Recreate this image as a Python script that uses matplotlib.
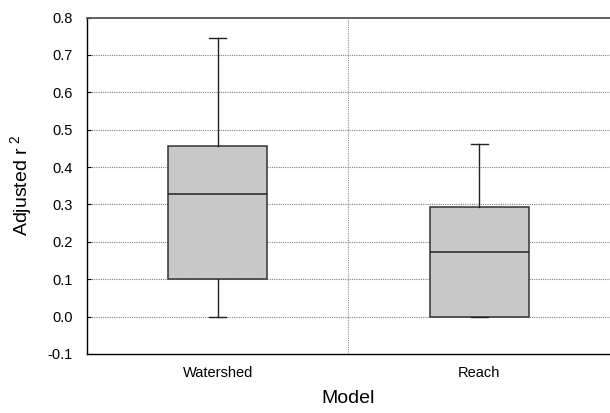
import numpy as np
import matplotlib
matplotlib.use("Agg")
import matplotlib.pyplot as plt

plt.rcParams["font.family"] = ["Liberation Sans", "DejaVu Sans"]
plt.rcParams["mathtext.default"] = "regular"

# --- DATA ---------------------------------------------------------------------
models     = ["Watershed", "Reach"]
whisk_low  = [0.0, 0.0]
q1         = [0.100, 0.000]
medians    = [0.327, 0.173]
q3         = [0.455, 0.294]
whisk_high = [0.746, 0.461]

y_ticks = [-0.1, 0.0, 0.1, 0.2, 0.3, 0.4, 0.5, 0.6, 0.7, 0.8]

# --- PLOT ---------------------------------------------------------------------
fig = plt.figure(figsize=(6.10, 4.13), dpi=100)
ax = fig.add_axes([0.1426, 0.1429, 0.8574, 0.8147])

stats = []
for i, name in enumerate(models):
    stats.append({
        "label": name,
        "whislo": whisk_low[i],
        "q1": q1[i],
        "med": medians[i],
        "q3": q3[i],
        "whishi": whisk_high[i],
        "fliers": [],
    })

ax.bxp(stats, positions=[1, 2], widths=0.38, patch_artist=True,
       showfliers=False,
       boxprops=dict(facecolor="#c8c8c8", edgecolor="#333333", linewidth=1.1),
       medianprops=dict(color="#222222", linewidth=1.1),
       whiskerprops=dict(color="#222222", linewidth=1.0),
       capprops=dict(color="#222222", linewidth=1.0),
       capwidths=0.065, zorder=3)

ax.set_xlim(0.5, 2.5)
ax.set_ylim(-0.1, 0.8)
ax.set_yticks(y_ticks)
ax.set_yticklabels([f"{v:.1f}" for v in y_ticks])

# dotted grid
for v in y_ticks[1:-1]:
    ax.axhline(v, color="#808080", linestyle=(0, (1, 1)), linewidth=0.8, zorder=1)
ax.axvline(1.5, color="#909090", linestyle=(0, (1, 1)), linewidth=0.8, zorder=1)

ax.spines["right"].set_visible(False)
ax.spines["top"].set_color("#555555")
ax.spines["top"].set_linewidth(1.3)
ax.spines["left"].set_linewidth(1.0)
ax.spines["bottom"].set_linewidth(1.0)

ax.tick_params(axis="y", direction="in", length=3, pad=10, labelsize=10.5)
ax.tick_params(axis="x", length=0, pad=9, labelsize=10.5)

ax.set_xlabel("Model", fontsize=14, labelpad=7)
ax.set_ylabel("Adjusted r$^{\\ 2}$", fontsize=14, labelpad=10)

fig.savefig("out.png", dpi=100)
